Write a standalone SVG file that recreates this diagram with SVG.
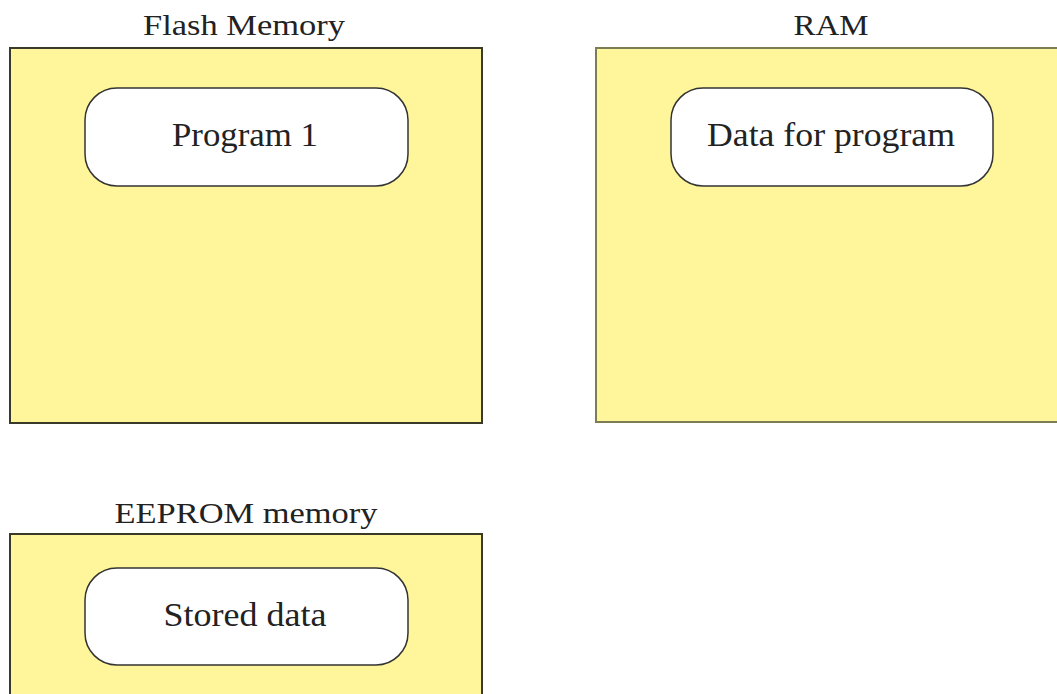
<svg xmlns="http://www.w3.org/2000/svg" width="1057" height="694" viewBox="0 0 1057 694">
<style>
.box{fill:#fff59b;stroke:#3a3a2a;stroke-width:2}
.inner{fill:#ffffff;stroke:#333333;stroke-width:1.5}
.title{font-family:"Liberation Serif",serif;font-size:29px;fill:#222222;text-anchor:middle}
.lbl{font-family:"Liberation Serif",serif;font-size:34px;fill:#222222;text-anchor:middle}
</style>
<rect width="1057" height="694" fill="#ffffff"/>
<g id="flash">
<text class="title" x="244" y="35" textLength="202" lengthAdjust="spacingAndGlyphs">Flash Memory</text>
<rect class="box" x="10" y="48" width="472" height="375"/>
</g>
<g id="program1">
<rect class="inner" x="85" y="88" width="323" height="98" rx="32" ry="32"/>
<text class="lbl" x="245" y="146" textLength="146" lengthAdjust="spacingAndGlyphs">Program 1</text>
</g>
<g id="ram">
<text class="title" x="831" y="35" textLength="75" lengthAdjust="spacingAndGlyphs">RAM</text>
<rect class="box" x="596" y="48" width="470" height="374" style="stroke:#7d7d55"/>
</g>
<g id="dataforprogram">
<rect class="inner" x="671" y="88" width="322" height="98" rx="32" ry="32"/>
<text class="lbl" x="831" y="146" textLength="248" lengthAdjust="spacingAndGlyphs">Data for program</text>
</g>
<g id="eeprom">
<text class="title" x="246" y="523" textLength="263" lengthAdjust="spacingAndGlyphs">EEPROM memory</text>
<rect class="box" x="10" y="534" width="472" height="170"/>
</g>
<g id="storeddata">
<rect class="inner" x="85" y="568" width="323" height="97" rx="32" ry="32"/>
<text class="lbl" x="245" y="626" textLength="163" lengthAdjust="spacingAndGlyphs">Stored data</text>
</g>
<g id="connectors"></g>
</svg>
